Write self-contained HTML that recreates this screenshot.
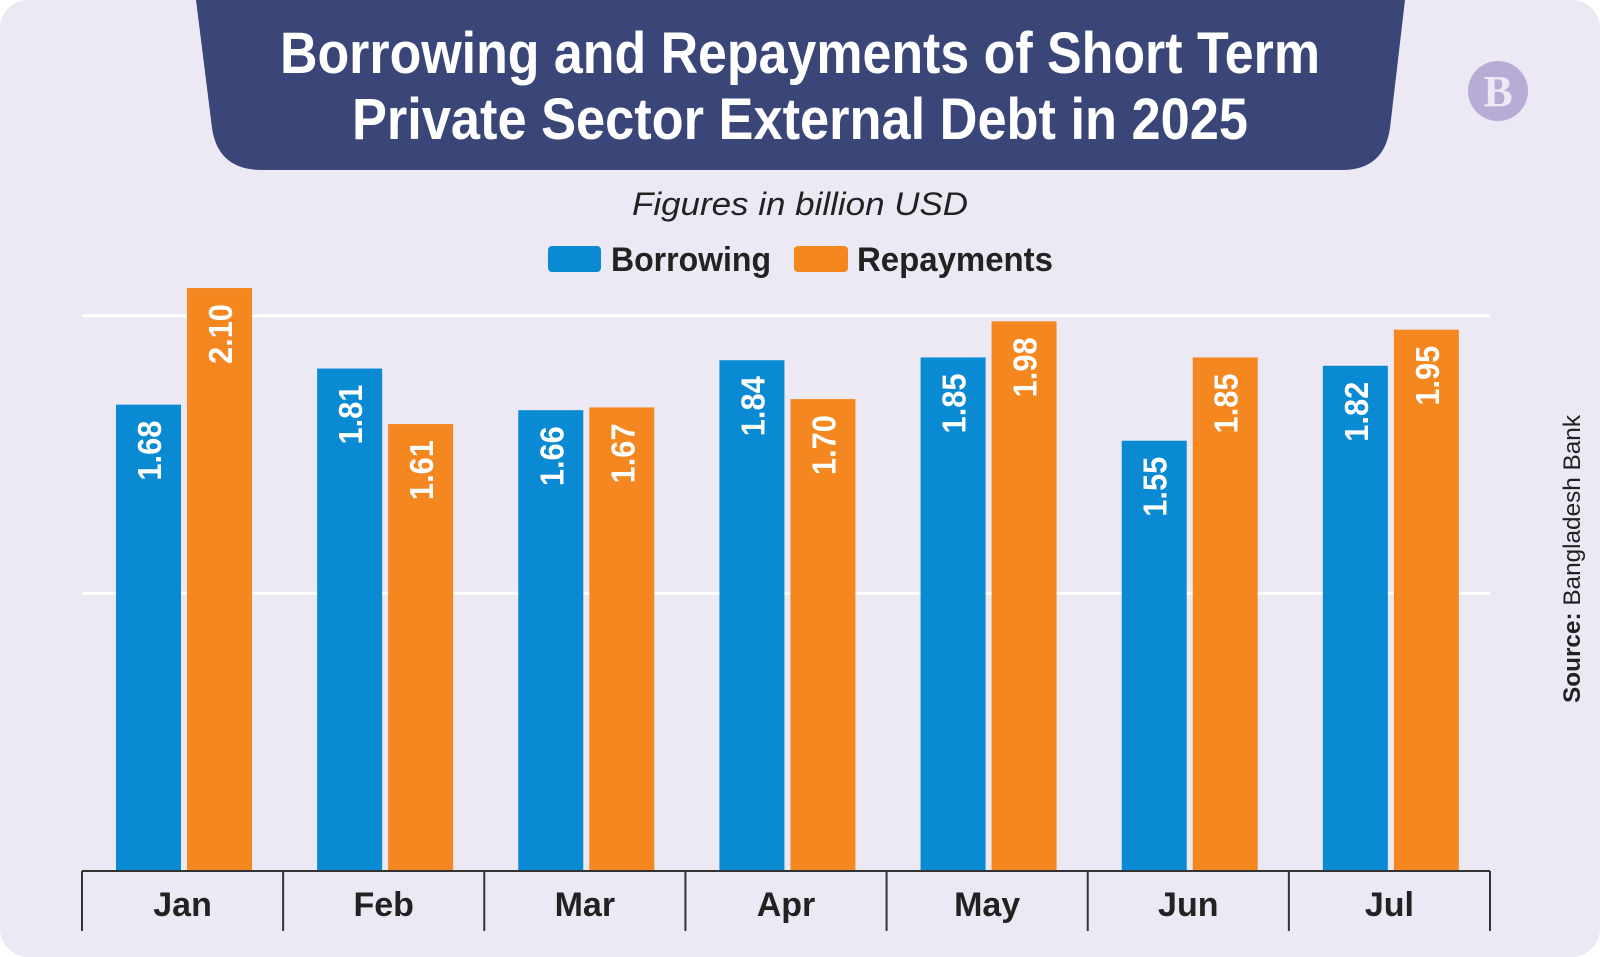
<!DOCTYPE html>
<html><head><meta charset="utf-8"><style>
html,body{margin:0;padding:0;background:#fff;}
svg{display:block;font-family:"Liberation Sans",sans-serif;}
</style></head><body>
<svg id="chart" width="1600" height="957" viewBox="0 0 1600 957">
<rect x="0" y="0" width="1600" height="957" rx="28" fill="#ece9f4"/>
<path d="M196,0 L1405,0 L1390,128 Q1384,170 1342,170 L262,170 Q218,170 212,128 Z" fill="#3a4677"/>
<text x="800" y="73" text-anchor="middle" font-size="58" font-weight="bold" fill="#fff" textLength="1040" lengthAdjust="spacingAndGlyphs">Borrowing and Repayments of Short Term</text>
<text x="800" y="139" text-anchor="middle" font-size="58" font-weight="bold" fill="#fff" textLength="896" lengthAdjust="spacingAndGlyphs">Private Sector External Debt in 2025</text>
<g>
<circle cx="1498" cy="91" r="30" fill="#b7acd6"/>
<text x="1498" y="106" text-anchor="middle" font-family="Liberation Serif,serif" font-size="44" font-weight="bold" fill="#ece9f4">B</text>
</g>
<text x="800" y="215" text-anchor="middle" font-size="32" font-style="italic" fill="#222" textLength="336" lengthAdjust="spacingAndGlyphs">Figures in billion USD</text>
<g>
<rect x="548" y="246" width="53" height="26" rx="4" fill="#0a8ad2"/>
<text x="611" y="271" font-size="34" font-weight="bold" fill="#222" textLength="160" lengthAdjust="spacingAndGlyphs">Borrowing</text>
<rect x="794" y="246" width="54" height="26" rx="4" fill="#f58720"/>
<text x="857" y="271" font-size="34" font-weight="bold" fill="#222" textLength="196" lengthAdjust="spacingAndGlyphs">Repayments</text>
</g>
<g id="grid"></g>
<g id="bars"></g>
<g id="axis"></g>
<text transform="translate(1580,703) rotate(-90)" font-size="24" fill="#222" textLength="288" lengthAdjust="spacingAndGlyphs"><tspan font-weight="bold">Source:</tspan> Bangladesh Bank</text>
</svg>
<script>
const categories = ["Jan","Feb","Mar","Apr","May","Jun","Jul"];
const borrowing = [1.68,1.81,1.66,1.84,1.85,1.55,1.82];
const repayments = [2.10,1.61,1.67,1.70,1.98,1.85,1.95];
const gridTicks = [1,2];
const NS="http://www.w3.org/2000/svg";
const x0=82,x1=1490,base=871,unit=277.6;
const bw=(x1-x0)/categories.length;
const y=v=>base-v*unit;
function mk(tag,attrs,parent){const e=document.createElementNS(NS,tag);for(const k in attrs)e.setAttribute(k,attrs[k]);parent.appendChild(e);return e;}
const grid=document.getElementById('grid'),bars=document.getElementById('bars'),axis=document.getElementById('axis');
gridTicks.forEach(t=>{
  const l=mk('line',{x1:x0,x2:x1,y1:y(t),y2:y(t),stroke:'#fff','stroke-width':3},grid);
  
  
});
function bar(v,x,color,name){
  const r=mk('rect',{x:x,y:y(v),width:65,height:base-y(v),fill:color},bars);
  
  
  const t=mk('text',{transform:`translate(${x+45},${y(v)+16}) rotate(-90)`,'text-anchor':'end','font-size':33,'font-weight':'bold',fill:'#fff',textLength:60,lengthAdjust:'spacingAndGlyphs'},bars);
  t.textContent=v.toFixed(2);
  
  
}
categories.forEach((c,i)=>{
  const cx=x0+bw*i;
  bar(borrowing[i],cx+34,'#0a8ad2','bar-borrowing-'+c.toLowerCase());
  bar(repayments[i],cx+105,'#f58720','bar-repayments-'+c.toLowerCase());
  const t=mk('text',{x:cx+bw/2,y:916,'text-anchor':'middle','font-size':34,'font-weight':'bold',fill:'#222'},axis);
  t.textContent=c;
  
  
});
const bl=mk('line',{x1:x0,x2:x1,y1:base,y2:base,stroke:'#333','stroke-width':2},axis);


for(let i=0;i<=categories.length;i++){
  const xx=x0+bw*i;
  const d=mk('line',{x1:xx,x2:xx,y1:base,y2:931,stroke:'#333','stroke-width':2},axis);
  
  
}
</script>
</body></html>
